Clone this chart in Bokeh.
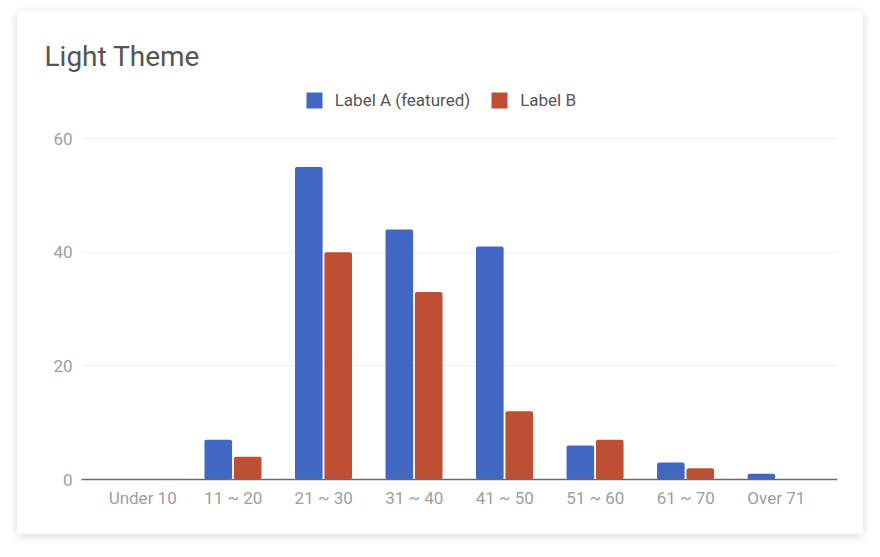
from bokeh.plotting import figure
from bokeh.models import FactorRange, Range1d, Legend, LegendItem, FixedTicker, ColumnDataSource
from bokeh.transform import dodge
from bokeh.embed import file_html
from bokeh.resources import INLINE

categories = ["Under 10", "11 ~ 20", "21 ~ 30", "31 ~ 40", "41 ~ 50", "51 ~ 60", "61 ~ 70", "Over 71"]
label_a = [0, 7, 55, 44, 41, 6, 3, 1]
label_b = [0, 4, 40, 33, 12, 7, 2, 0]
y_ticks = [0, 20, 40, 60]
series_names = ["Label A (featured)", "Label B"]
colors = ["#4267C3", "#BE4F35"]

W, H = 846, 523
FRAME_TOP = 70
FRAME_BOTTOM = 468
TOP60 = 127
y_end = 60 * (FRAME_BOTTOM - FRAME_TOP) / (FRAME_BOTTOM - TOP60)

src = ColumnDataSource(dict(cat=categories, a=label_a, b=label_b))

p = figure(
    width=W, height=H,
    x_range=FactorRange(factors=categories, range_padding=0.044, range_padding_units="percent"),
    y_range=Range1d(0, y_end),
    output_backend="svg", toolbar_location=None,
    title="Light Theme",
    min_border_left=64, min_border_right=26, min_border_bottom=H - FRAME_BOTTOM, min_border_top=FRAME_TOP,
    margin=(11, 0, 0, 17),
)
p.styles = {"box-shadow": "0 2px 9px rgba(0,0,0,0.16)"}
p.border_fill_color = "white"
p.background_fill_color = "white"
p.outline_line_color = None

p.title.text_font = "Roboto"
p.title.text_font_size = "28px"
p.title.text_font_style = "normal"
p.title.text_color = "#555555"
p.title.align = "left"
p.title.offset = -37
p.title.standoff = 18

ra = p.vbar(x=dodge("cat", -0.165, range=p.x_range), top="a", width=0.305, source=src,
            fill_color=colors[0], line_color=None, border_radius=2)
rb = p.vbar(x=dodge("cat", 0.16, range=p.x_range), top="b", width=0.305, source=src,
            fill_color=colors[1], line_color=None, border_radius=2)

legend = Legend(
    items=[LegendItem(label=series_names[0], renderers=[ra]),
           LegendItem(label=series_names[1], renderers=[rb])],
    location=(222.7, FRAME_BOTTOM - 99), orientation="horizontal",
    border_line_color=None, background_fill_alpha=0,
    glyph_width=20, glyph_height=20, label_height=20,
    label_standoff=11, spacing=19, padding=0, margin=0,
    label_text_font="Roboto", label_text_font_size="17px", label_text_color="#555555",
)
p.add_layout(legend, "center")

for ax in (p.xaxis[0], p.yaxis[0]):
    ax.major_label_text_font = "Roboto"
    ax.major_label_text_font_size = "17px"
    ax.major_label_text_color = "#9e9e9e"
    ax.major_tick_line_color = None
    ax.minor_tick_line_color = None
    ax.major_tick_out = 0
    ax.major_tick_in = 0

p.xaxis.axis_line_color = "#6b6b6b"
p.xaxis.axis_line_width = 1.3
p.xaxis.major_label_standoff = 8
p.yaxis.axis_line_color = None
p.yaxis.major_label_standoff = 9
p.yaxis.ticker = FixedTicker(ticks=y_ticks)

p.xgrid.grid_line_color = None
p.ygrid.grid_line_color = "#f0f0f0"
p.ygrid.grid_line_width = 1

open("out.html", "w").write(file_html(p, INLINE))
